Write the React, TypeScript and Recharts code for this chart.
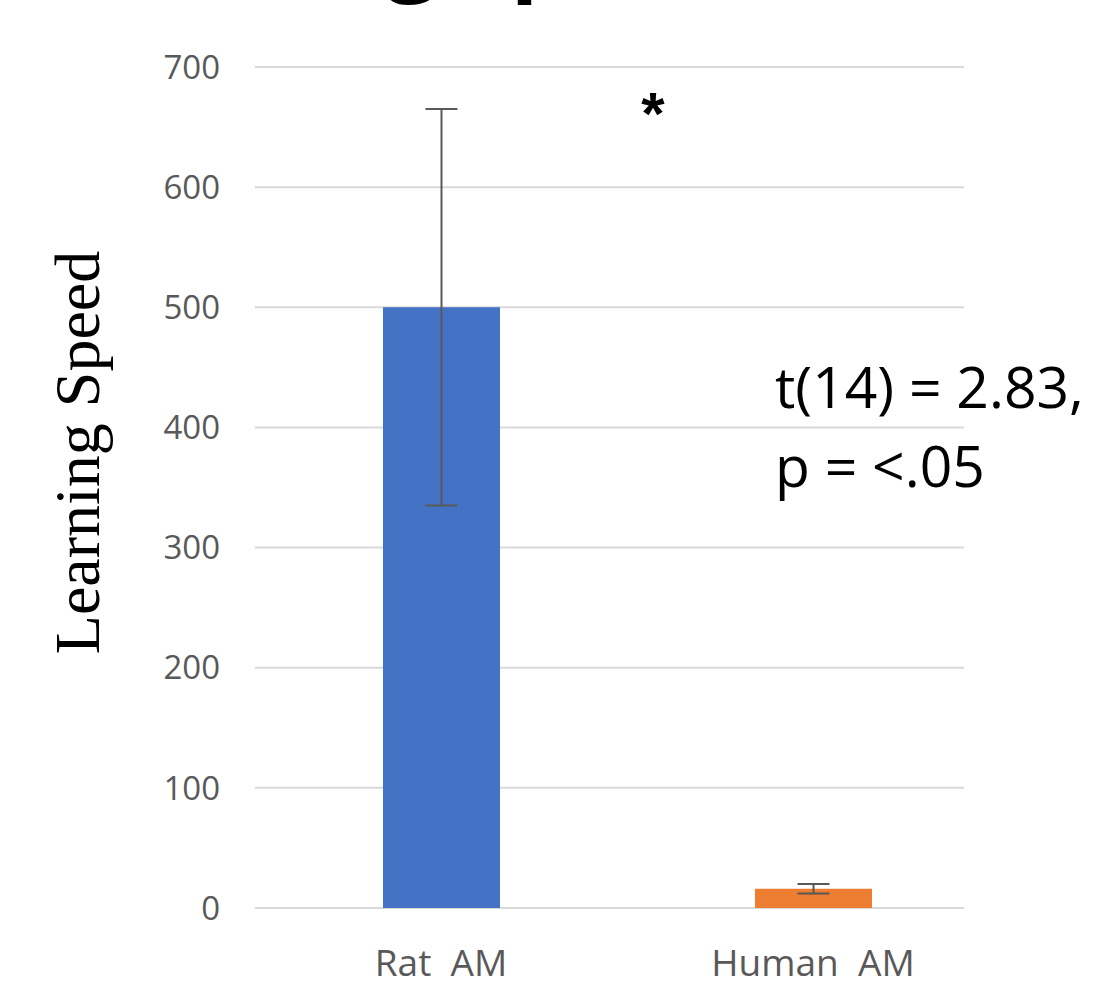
import React from "react";
import {
  BarChart,
  Bar,
  Cell,
  XAxis,
  YAxis,
  CartesianGrid,
  ErrorBar,
  Label,
} from "recharts";

const groups = ["Rat  AM", "Human  AM"];
const speeds = [500, 16];
const errors = [165, 4];
const yTicks = [0, 100, 200, 300, 400, 500, 600, 700];
const COLORS = ["#4472C4", "#ED7D31"];

const data = groups.map((g, i) => ({ group: g, speed: speeds[i], err: errors[i] }));

const SANS = "'Open Sans', 'Noto Sans', sans-serif";
const GREY = "#595959";

function XTick(props: any) {
  const { x, y, payload } = props;
  return (
    <text
      x={x}
      y={y}
      dy="0.71em"
      textAnchor="middle"
      fill={GREY}
      fontFamily={SANS}
      fontSize={37}
      style={{ whiteSpace: "pre" }}
    >
      {payload.value}
    </text>
  );
}

function YLabel(props: any) {
  const { viewBox } = props;
  const cx = viewBox.x + 77;
  const cy = viewBox.y + viewBox.height / 2 - 35;
  return (
    <text
      x={cx}
      y={cy}
      transform={`rotate(-90, ${cx}, ${cy})`}
      textAnchor="middle"
      dominantBaseline="central"
      fontFamily="'Liberation Serif', 'DejaVu Serif', serif"
      fontSize={64}
      fill="#000"
    >
      Learning Speed
    </text>
  );
}

function App() {
  return (
    <div style={{ position: "absolute", left: 0, top: 0, width: 1097, height: 982, background: "#fff" }}>
      <BarChart
        width={1097}
        height={982}
        data={data}
        margin={{ top: 67, right: 98, bottom: 0, left: 0 }}
        barSize={117}
      >
        <CartesianGrid
          vertical={false}
          horizontal={(p: any) => (
            <line key={p.key} x1={p.x1} y1={p.y1} x2={p.x2 - 35} y2={p.y2} stroke="#d9d9d9" strokeWidth={2} />
          )}
        />
        <XAxis
          dataKey="group"
          axisLine={false}
          tickLine={false}
          tickMargin={36}
          height={74}
          tick={<XTick />}
        />
        <YAxis
          domain={[0, 700]}
          ticks={yTicks}
          width={255}
          axisLine={false}
          tickLine={false}
          tickMargin={29}
          tick={{ fill: GREY, fontFamily: SANS, fontSize: 33 }}
        >
          <Label content={<YLabel />} />
        </YAxis>
        <Bar dataKey="speed" isAnimationActive={false}>
          {data.map((d, i) => (
            <Cell key={d.group} fill={COLORS[i % COLORS.length]} />
          ))}
          <ErrorBar dataKey="err" width={16} stroke={GREY} strokeWidth={2} direction="y" />
        </Bar>
      </BarChart>
      <svg width={1097} height={982} style={{ position: "absolute", left: 0, top: 0, pointerEvents: "none" }}>
        <text x={42} y={-17} fontFamily={SANS} fontWeight="bold" fontSize={90} fill="#000">
          Learning Speed
        </text>
        <text x={653} y={134} textAnchor="middle" fontFamily="'Liberation Sans', sans-serif" fontWeight="bold" fontSize={60} fill="#000">
          *
        </text>
        <text x={775} y={408} fontFamily={SANS} fontSize={57} fill="#000">
          t(14) = 2.83,
        </text>
        <text x={775} y={487} fontFamily={SANS} fontSize={57} fill="#000">
          p = &lt;.05
        </text>
      </svg>
    </div>
  );
}

export default App;
